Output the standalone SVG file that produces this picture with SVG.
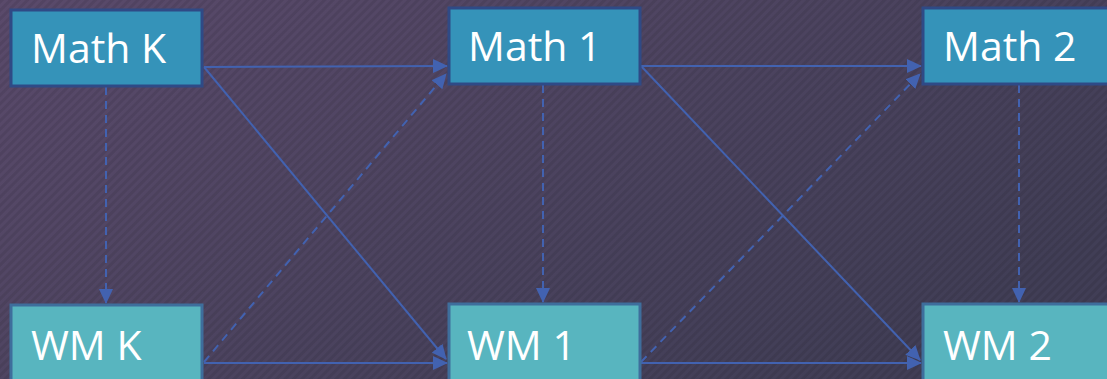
<svg xmlns="http://www.w3.org/2000/svg" width="1107" height="379" viewBox="0 0 1107 379">
<defs>
<linearGradient id="bg" x1="0" y1="0" x2="1" y2="0.6">
<stop offset="0" stop-color="#5a4a6b"/>
<stop offset="1" stop-color="#413e56"/>
</linearGradient>
<pattern id="hatch" width="6" height="6" patternUnits="userSpaceOnUse" patternTransform="rotate(-45)">
<rect width="6" height="3" fill="#000" opacity="0.08"/>
</pattern>
<marker id="arr" markerWidth="16" markerHeight="14" refX="14" refY="7" orient="auto" markerUnits="userSpaceOnUse">
<path d="M0,0 L15,7 L0,14 z" fill="#4262b0"/>
</marker>
<style>
.math rect{fill:#3593b9;stroke:#2f4a86;stroke-width:3}
.wm rect{fill:#58b5bf;stroke:#3e6e9c;stroke-width:3}
text{font-family:"Open Sans","Liberation Sans",sans-serif;font-size:41px;fill:#ffffff}
.c line{stroke:#4262b0;stroke-width:2;marker-end:url(#arr)}
.c .d{stroke-dasharray:8,6}
</style>
</defs>
<rect width="1107" height="379" fill="url(#bg)"/>
<rect width="1107" height="379" fill="url(#hatch)"/>
<g id="connectors" class="c">
<line x1="204" y1="67" x2="447" y2="66"/>
<line x1="204" y1="67" x2="446" y2="359"/>
<line class="d" x1="106" y1="87" x2="106" y2="303"/>
<line x1="204" y1="363" x2="447" y2="363"/>
<line class="d" x1="204" y1="362" x2="446" y2="74"/>
<line x1="641" y1="66" x2="921" y2="66"/>
<line x1="641" y1="66" x2="920" y2="360"/>
<line class="d" x1="543" y1="85" x2="543" y2="302"/>
<line x1="641" y1="363" x2="921" y2="363"/>
<line class="d" x1="641" y1="362" x2="920" y2="74"/>
<line class="d" x1="1019" y1="85" x2="1019" y2="302"/>
</g>
<g id="mathK" class="math"><rect x="11" y="10" width="191" height="76"/><text x="31" y="63">Math K</text></g>
<g id="math1" class="math"><rect x="449" y="8" width="191" height="76"/><text x="468" y="61">Math 1</text></g>
<g id="math2" class="math"><rect x="923" y="8" width="200" height="76"/><text x="943" y="61">Math 2</text></g>
<g id="wmK" class="wm"><rect x="11" y="305" width="191" height="90"/><text x="31" y="360">WM K</text></g>
<g id="wm1" class="wm"><rect x="449" y="304" width="191" height="90"/><text x="467" y="360">WM 1</text></g>
<g id="wm2" class="wm"><rect x="923" y="304" width="200" height="90"/><text x="943" y="360">WM 2</text></g>
</svg>
